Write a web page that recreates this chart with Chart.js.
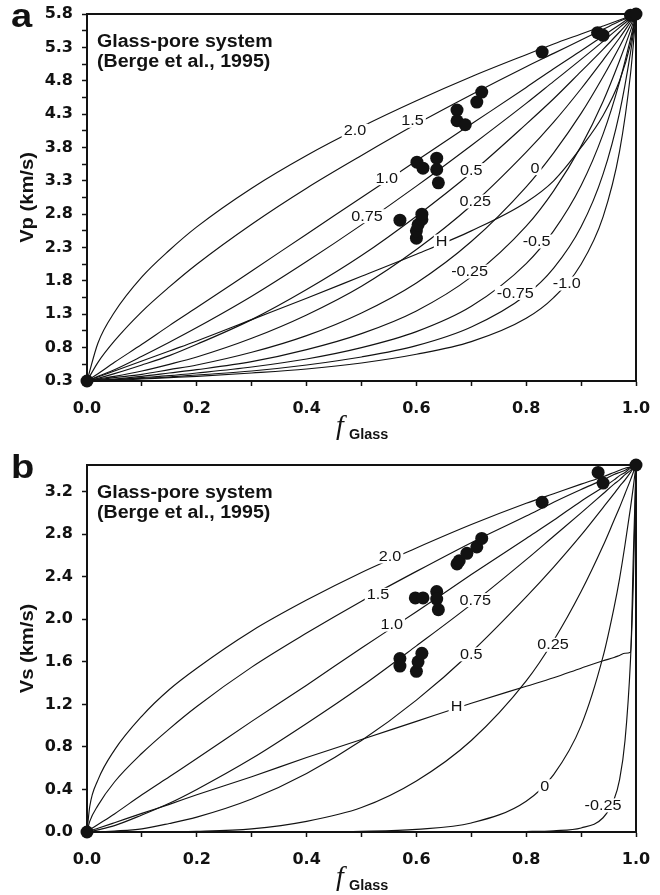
<!DOCTYPE html>
<html>
<head>
<meta charset="utf-8">
<title>Glass-pore system velocities</title>
<script src="https://cdn.jsdelivr.net/npm/chart.js@4.4.0/dist/chart.umd.min.js"></script>
<style>
  html, body { margin: 0; padding: 0; background: #fff; }
  #wrap { position: relative; width: 660px; height: 895px; overflow: hidden; }
  .panel { position: absolute; left: 0; width: 660px; height: 444px; }
  #panelA { top: 0; }
  #panelB { top: 451px; }
</style>
</head>
<body>
<div id="wrap">
  <div class="panel" id="panelA"><canvas id="chartA" width="660" height="444"></canvas></div>
  <div class="panel" id="panelB"><canvas id="chartB" width="660" height="444"></canvas></div>
</div>
<script>
// ---- panel a : Vp ----
const glassFracA = [0, 0.02, 0.05, 0.1, 0.15, 0.2, 0.3, 0.4, 0.5, 0.6, 0.7, 0.8, 0.85, 0.9, 0.94, 0.97, 0.99, 1];

const vpP200 = [0.3, 0.87, 1.33, 1.86, 2.26, 2.61, 3.19, 3.68, 4.11, 4.50, 4.86, 5.19, 5.35, 5.50, 5.62, 5.71, 5.77, 5.8];
const vpP150 = [0.3, 0.58, 0.90, 1.34, 1.71, 2.05, 2.65, 3.19, 3.68, 4.15, 4.59, 5.01, 5.21, 5.41, 5.57, 5.69, 5.76, 5.8];
const vpP100 = [0.3, 0.41, 0.58, 0.85, 1.13, 1.40, 1.95, 2.50, 3.05, 3.60, 4.15, 4.70, 4.98, 5.25, 5.47, 5.64, 5.75, 5.8];
const vpP075 = [0.3, 0.37, 0.47, 0.67, 0.88, 1.10, 1.57, 2.09, 2.64, 3.22, 3.83, 4.46, 4.79, 5.12, 5.39, 5.60, 5.73, 5.8];
const vpP050 = [0.3, 0.34, 0.41, 0.54, 0.68, 0.85, 1.22, 1.67, 2.18, 2.77, 3.42, 4.15, 4.53, 4.94, 5.27, 5.53, 5.71, 5.8];
const vpP025 = [0.3, 0.33, 0.37, 0.45, 0.55, 0.66, 0.94, 1.29, 1.72, 2.27, 2.93, 3.73, 4.18, 4.68, 5.11, 5.44, 5.68, 5.8];
const vpP000 = [0.3, 0.32, 0.35, 0.40, 0.47, 0.54, 0.73, 0.98, 1.32, 1.77, 2.39, 3.21, 3.72, 4.31, 4.86, 5.31, 5.63, 5.8];
const vpM025 = [0.3, 0.31, 0.33, 0.37, 0.42, 0.47, 0.59, 0.77, 1.01, 1.35, 1.86, 2.62, 3.15, 3.82, 4.49, 5.10, 5.55, 5.8];
const vpM050 = [0.3, 0.31, 0.32, 0.35, 0.38, 0.42, 0.51, 0.63, 0.80, 1.04, 1.42, 2.06, 2.55, 3.23, 4.00, 4.78, 5.43, 5.8];
const vpM075 = [0.3, 0.31, 0.32, 0.34, 0.36, 0.39, 0.45, 0.54, 0.66, 0.83, 1.11, 1.59, 1.99, 2.61, 3.40, 4.32, 5.22, 5.8];
const vpM100 = [0.3, 0.31, 0.31, 0.33, 0.35, 0.37, 0.42, 0.48, 0.57, 0.70, 0.89, 1.24, 1.55, 2.05, 2.76, 3.74, 4.90, 5.8];
const vpH    = [0.3, 0.36, 0.45, 0.60, 0.75, 0.90, 1.22, 1.54, 1.87, 2.20, 2.55, 2.98, 3.30, 3.80, 4.28, 4.80, 5.35, 5.8];

// measured samples (Berge et al., 1995)
const sampleFracA = [0, 0.57, 0.60, 0.60, 0.603, 0.61, 0.61, 0.601, 0.612, 0.637, 0.637, 0.64, 0.674, 0.674, 0.689, 0.71, 0.719, 0.829, 0.93, 0.94, 0.99, 1.0];
const sampleVp    = [0.3, 2.71, 2.44, 2.55, 2.64, 2.72, 2.80, 3.58, 3.49, 3.64, 3.47, 3.27, 4.36, 4.20, 4.14, 4.48, 4.63, 5.23, 5.52, 5.48, 5.78, 5.8];

const curveTextA = ['2.0', '1.5', '1.0', '0.75', '0.5', '0.25', '0', 'H', '-0.25', '-0.5', '-0.75', '-1.0'];
const curveTextAtFracA = [0.488, 0.593, 0.546, 0.51, 0.70, 0.707, 0.816, 0.646, 0.697, 0.819, 0.78, 0.874];
const curveTextAtVp    = [4.05, 4.20, 3.34, 2.77, 3.46, 2.99, 3.49, 2.39, 1.94, 2.39, 1.62, 1.76];

const vpTicks = [0.3, 0.55, 0.8, 1.05, 1.3, 1.55, 1.8, 2.05, 2.3, 2.55, 2.8, 3.05, 3.3, 3.55, 3.8, 4.05, 4.3, 4.55, 4.8, 5.05, 5.3, 5.55, 5.8];

// ---- panel b : Vs ----
const glassFracB = [0, 0.005, 0.02, 0.05, 0.1, 0.15, 0.2, 0.3, 0.4, 0.5, 0.6, 0.7, 0.8, 0.85, 0.9, 0.94, 0.96, 0.97, 0.98, 0.99, 0.995, 1];

const vsP200 = [0, 0.24, 0.49, 0.77, 1.09, 1.34, 1.54, 1.89, 2.18, 2.44, 2.67, 2.89, 3.09, 3.18, 3.27, 3.34, 3.38, 3.40, 3.42, 3.43, 3.44, 3.45];
const vsP150 = [0, 0.10, 0.25, 0.47, 0.74, 0.97, 1.18, 1.55, 1.87, 2.17, 2.45, 2.72, 2.97, 3.10, 3.22, 3.31, 3.36, 3.38, 3.40, 3.43, 3.44, 3.45];
const vsP100 = [0, 0.02, 0.07, 0.17, 0.35, 0.52, 0.69, 1.04, 1.38, 1.73, 2.07, 2.42, 2.76, 2.93, 3.11, 3.24, 3.31, 3.35, 3.38, 3.42, 3.43, 3.45];
const vsP075 = [0, 0.003, 0.02, 0.06, 0.16, 0.27, 0.40, 0.69, 1.02, 1.37, 1.75, 2.14, 2.56, 2.78, 3.00, 3.18, 3.27, 3.31, 3.36, 3.40, 3.43, 3.45];
const vsP050 = [0, 0, 0.001, 0.009, 0.03, 0.08, 0.14, 0.31, 0.55, 0.86, 1.24, 1.69, 2.21, 2.49, 2.79, 3.05, 3.18, 3.25, 3.31, 3.38, 3.42, 3.45];
const vsP025 = [0, 0, 0, 0, 0, 0.002, 0.006, 0.03, 0.10, 0.23, 0.48, 0.86, 1.42, 1.80, 2.26, 2.69, 2.93, 3.05, 3.18, 3.31, 3.38, 3.45];
const vsP000 = [0, 0, 0, 0, 0, 0, 0, 0.001, 0.002, 0.007, 0.025, 0.085, 0.29, 0.54, 1.00, 1.65, 2.11, 2.38, 2.70, 3.05, 3.24, 3.45];
const vsM025 = [0, 0, 0, 0, 0, 0, 0, 0, 0, 0, 0, 0.001, 0.005, 0.012, 0.038, 0.134, 0.305, 0.49, 0.86, 1.62, 2.32, 3.45];
const vsH    = [0, 0.01, 0.035, 0.087, 0.175, 0.26, 0.35, 0.52, 0.70, 0.87, 1.04, 1.21, 1.37, 1.45, 1.54, 1.61, 1.64, 1.66, 1.68, 1.69, 2.57, 3.45];

const sampleFracB = [0, 0.57, 0.57, 0.60, 0.603, 0.61, 0.598, 0.612, 0.637, 0.637, 0.64, 0.674, 0.678, 0.692, 0.71, 0.719, 0.829, 0.931, 0.94, 1.0];
const sampleVs    = [0, 1.63, 1.56, 1.51, 1.60, 1.68, 2.20, 2.20, 2.26, 2.19, 2.09, 2.52, 2.55, 2.62, 2.68, 2.76, 3.10, 3.38, 3.28, 3.45];

const curveTextB = ['2.0', '1.5', '1.0', '0.75', '0.5', '0.25', 'H', '0', '-0.25'];
const curveTextAtFracB = [0.552, 0.53, 0.555, 0.707, 0.70, 0.849, 0.673, 0.834, 0.94];
const curveTextAtVs    = [2.59, 2.23, 1.95, 2.18, 1.67, 1.76, 1.18, 0.43, 0.25];

const vsTicks = [0, 0.4, 0.8, 1.2, 1.6, 2.0, 2.4, 2.8, 3.2];

const fracTicks = [0, 0.1, 0.2, 0.3, 0.4, 0.5, 0.6, 0.7, 0.8, 0.9, 1.0];

// ---- drawing helpers ----
const INK = '#121212';
const SANS = '"Liberation Sans", Arial, sans-serif';

function curveSet(fracs, values) {
    return {
        data: fracs.map((f, i) => ({ x: f, y: values[i] })),
        showLine: true,
        borderColor: INK,
        borderWidth: 1.15,
        pointRadius: 0,
        pointHoverRadius: 0,
        fill: false,
        cubicInterpolationMode: 'monotone'
    };
}

function sampleSet(fracs, values) {
    return {
        data: fracs.map((f, i) => ({ x: f, y: values[i] })),
        showLine: false,
        pointRadius: 6.5,
        pointHoverRadius: 6.5,
        pointBackgroundColor: INK,
        pointBorderWidth: 0,
        clip: false
    };
}

function wideText(ctx, text, x, y, sx, align) {
    ctx.save();
    ctx.translate(x, y);
    ctx.scale(sx, 1);
    ctx.textAlign = align;
    ctx.fillText(text, 0, 0);
    ctx.restore();
}

// frame, curve labels and titles
const decorations = {
    id: 'decorations',
    afterDatasetsDraw(chart, args, opts) {
        const { ctx, scales } = chart;
        ctx.save();
        ctx.font = '15px ' + SANS;
        ctx.textBaseline = 'middle';
        opts.labels.forEach((txt, i) => {
            const px = scales.x.getPixelForValue(opts.labelX[i]);
            const py = scales.y.getPixelForValue(opts.labelY[i]);
            const w = ctx.measureText(txt).width * 1.08;
            ctx.fillStyle = '#fff';
            ctx.fillRect(px - w / 2 - 2, py - 7, w + 4, 14);
            ctx.fillStyle = INK;
            wideText(ctx, txt, px, py + 0.5, 1.08, 'center');
        });
        ctx.restore();
    },
    afterDraw(chart, args, opts) {
        const { ctx, chartArea } = chart;
        ctx.save();
        ctx.strokeStyle = INK;
        ctx.lineWidth = 2;
        ctx.strokeRect(chartArea.left, chartArea.top,
            chartArea.right - chartArea.left, chartArea.bottom - chartArea.top);

        ctx.fillStyle = INK;
        ctx.textBaseline = 'alphabetic';

        // panel letter
        ctx.font = 'bold 34px ' + SANS;
        wideText(ctx, opts.letter, 11, 27, 1.12, 'left');

        // system note
        ctx.font = 'bold 18px ' + SANS;
        wideText(ctx, 'Glass-pore system', chartArea.left + 10, 47, 1.09, 'left');
        wideText(ctx, '(Berge et al., 1995)', chartArea.left + 10, 67, 1.09, 'left');

        // y title
        ctx.save();
        ctx.translate(28, (chartArea.top + chartArea.bottom) / 2);
        ctx.rotate(-Math.PI / 2);
        ctx.font = 'bold 18px ' + SANS;
        ctx.textBaseline = 'middle';
        wideText(ctx, opts.yTitle, 0, 0, 1.12, 'center');
        ctx.restore();

        // x title: italic f with "Glass" subscript
        ctx.font = 'italic 28px "Liberation Serif", "Times New Roman", serif';
        wideText(ctx, 'f', 340, 434, 1.0, 'center');
        ctx.font = 'bold 14px ' + SANS;
        wideText(ctx, 'Glass', 349, 439, 1.03, 'left');
        ctx.restore();
    }
};

function makePanel(canvasId, cfg) {
    return new Chart(document.getElementById(canvasId), {
        type: 'scatter',
        data: { datasets: [sampleSet(cfg.sampleX, cfg.sampleY)].concat(cfg.curves) },
        options: {
            responsive: false,
            animation: false,
            devicePixelRatio: 1,
            layout: { padding: { top: 14, right: 24, bottom: 0, left: 0 } },
            plugins: {
                legend: { display: false },
                tooltip: { enabled: false },
                decorations: {
                    letter: cfg.letter,
                    yTitle: cfg.yTitle,
                    labels: cfg.labels,
                    labelX: cfg.labelX,
                    labelY: cfg.labelY
                }
            },
            scales: {
                x: {
                    type: 'linear',
                    min: 0,
                    max: 1,
                    afterBuildTicks: s => { s.ticks = fracTicks.map(v => ({ value: v })); },
                    afterFit: s => {
                        s.height = 444 - 381;
                        s.paddingLeft = 0;
                        s.paddingRight = 0;
                    },
                    grid: { drawOnChartArea: false, drawTicks: true, tickLength: 5, tickWidth: 1.5, tickColor: INK },
                    border: { display: true, color: INK, width: 2 },
                    ticks: {
                        autoSkip: false,
                        maxRotation: 0,
                        padding: 13,
                        color: INK,
                        font: { family: '"DejaVu Sans"', weight: 'bold', size: 16 },
                        callback: (v, i) => (i % 2 === 0 ? v.toFixed(1) : '')
                    }
                },
                y: {
                    type: 'linear',
                    min: cfg.yMin,
                    max: cfg.yMax,
                    afterBuildTicks: s => { s.ticks = cfg.yTicks.map(v => ({ value: v })); },
                    afterFit: s => {
                        s.width = 87;
                        s.paddingTop = 0;
                        s.paddingBottom = 0;
                    },
                    grid: { drawOnChartArea: false, drawTicks: true, tickLength: 5, tickWidth: 1.5, tickColor: INK },
                    border: { display: true, color: INK, width: 2 },
                    ticks: {
                        autoSkip: false,
                        padding: 9,
                        color: INK,
                        font: { family: '"DejaVu Sans"', weight: 'bold', size: 16 },
                        callback: (v, i) => (i % cfg.yLabelEvery === 0 ? v.toFixed(1) : '')
                    }
                }
            }
        },
        plugins: [decorations]
    });
}

makePanel('chartA', {
    letter: 'a',
    yTitle: 'Vp (km/s)',
    yMin: 0.3,
    yMax: 5.8,
    yTicks: vpTicks,
    yLabelEvery: 2,
    sampleX: sampleFracA,
    sampleY: sampleVp,
    curves: [vpP200, vpP150, vpP100, vpP075, vpP050, vpP025, vpP000,
             vpM025, vpM050, vpM075, vpM100, vpH].map(v => curveSet(glassFracA, v)),
    labels: curveTextA,
    labelX: curveTextAtFracA,
    labelY: curveTextAtVp
});

makePanel('chartB', {
    letter: 'b',
    yTitle: 'Vs (km/s)',
    yMin: 0,
    yMax: 3.45,
    yTicks: vsTicks,
    yLabelEvery: 1,
    sampleX: sampleFracB,
    sampleY: sampleVs,
    curves: [vsP200, vsP150, vsP100, vsP075, vsP050, vsP025, vsP000,
             vsM025, vsH].map(v => curveSet(glassFracB, v)),
    labels: curveTextB,
    labelX: curveTextAtFracB,
    labelY: curveTextAtVs
});
</script>
</body>
</html>
